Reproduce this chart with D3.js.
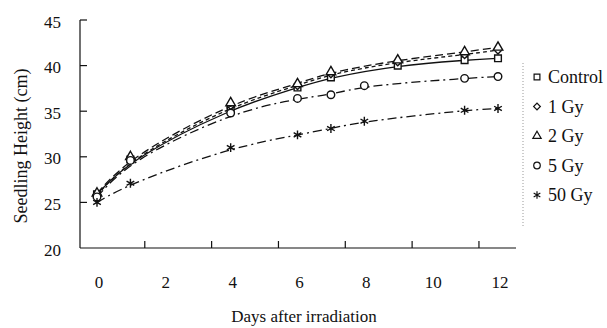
<!DOCTYPE html>
<html><head><meta charset="utf-8">
<script src="https://cdn.jsdelivr.net/npm/d3@7"></script>
<style>
html,body{margin:0;padding:0;background:#fff;}
svg text{font-family:"Liberation Serif","Times New Roman",serif;fill:#111;}
</style></head>
<body><svg id="c" width="607" height="328"></svg>
<script>
// ---- data ----
const seriesNames = ["Control", "1 Gy", "2 Gy", "5 Gy", "50 Gy"];
const daysLow = [0, 1, 4, 6, 7, 9, 11, 12];
const daysHigh = [0, 1, 4, 6, 7, 8, 11, 12];
const controlVals = [25.9, 29.7, 35.3, 37.6, 38.7, 40.0, 40.6, 40.8];
const gy1Vals = [25.8, 29.8, 35.6, 37.8, 39.1, 40.4, 41.2, 41.7];
const gy2Vals = [26.0, 30.0, 35.9, 38.0, 39.3, 40.6, 41.5, 42.0];
const gy5Vals = [25.6, 29.6, 34.8, 36.4, 36.8, 37.8, 38.6, 38.8];
const gy50Vals = [25.0, 27.1, 31.0, 32.4, 33.1, 33.9, 35.1, 35.3];
const xTickLabels = [0, 2, 4, 6, 8, 10, 12];
const yTickLabels = [20, 25, 30, 35, 40, 45];

const series = [
  {name: seriesNames[0], days: daysLow, vals: controlVals, sym: d3.symbolSquare, size: 45, rot: 0, dash: null},
  {name: seriesNames[1], days: daysLow, vals: gy1Vals, sym: d3.symbolSquare, size: 30, rot: 45, dash: "4,3"},
  {name: seriesNames[2], days: daysLow, vals: gy2Vals, sym: d3.symbolTriangle, size: 40, rot: 0, dash: "8,4"},
  {name: seriesNames[3], days: daysHigh, vals: gy5Vals, sym: d3.symbolCircle, size: 45, rot: 0, dash: "9,4,2,4"},
  {name: seriesNames[4], days: daysHigh, vals: gy50Vals, sym: d3.symbolAsterisk, size: 55, rot: 0, dash: "9,4,2,4"}
];

const svg = d3.select("#c");
const x = d3.scaleLinear().domain([0, 12]).range([97, 498]);
const y = d3.scaleLinear().domain([20, 45]).range([248, 20]);
const axisLeft = 80, axisRight = 516;

// axes
const g = svg.append("g").attr("stroke", "#111").attr("stroke-width", 1.2);
g.append("line").attr("x1", axisLeft).attr("x2", axisLeft).attr("y1", y(45)).attr("y2", y(20));
g.append("line").attr("x1", axisLeft).attr("x2", axisRight).attr("y1", y(20)).attr("y2", y(20));
yTickLabels.filter(v => v > 20).forEach(v => {
  g.append("line").attr("x1", axisLeft).attr("x2", axisLeft + 7).attr("y1", y(v)).attr("y2", y(v));
});
// x ticks sit between the labels in the original
const xTickOffset = 1.43;
d3.range(6).forEach(k => {
  const xv = x(xTickOffset + 2 * k);
  g.append("line").attr("x1", xv).attr("x2", xv).attr("y1", y(20)).attr("y2", y(20) - 7);
});

svg.selectAll(".yl").data(yTickLabels).enter().append("text")
  .attr("x", 61).attr("y", d => y(d) + 7.5).attr("text-anchor", "end")
  .attr("font-size", 17).text(d => d);
svg.selectAll(".xl").data(xTickLabels).enter().append("text")
  .attr("x", d => x(d) + 2).attr("y", 288).attr("text-anchor", "middle")
  .attr("font-size", 17).text(d => d);

svg.append("text").attr("x", 304).attr("y", 322).attr("text-anchor", "middle")
  .attr("font-size", 17).text("Days after irradiation");
svg.append("text").attr("transform", "translate(27,146) rotate(-90)").attr("text-anchor", "middle")
  .attr("font-size", 18).text("Seedling Height (cm)");

// lines
const line = d3.line().x(d => x(d[0])).y(d => y(d[1])).curve(d3.curveBasis);
series.forEach(s => {
  const pts = s.days.map((d, i) => [d, s.vals[i]]);
  svg.append("path").attr("d", line(pts)).attr("fill", "none").attr("stroke", "#111")
    .attr("stroke-width", 1.3).attr("stroke-dasharray", s.dash);
  svg.append("g").selectAll("path").data(pts).enter().append("path")
    .attr("transform", d => `translate(${x(d[0])},${y(d[1])}) rotate(${s.rot})`)
    .attr("d", d3.symbol().type(s.sym).size(s.size))
    .attr("fill", "#fff").attr("stroke", "#111").attr("stroke-width", 1.4);
});

// legend
svg.append("line").attr("x1", 523).attr("x2", 523).attr("y1", 63).attr("y2", 228)
  .attr("stroke", "#999").attr("stroke-width", 1).attr("stroke-dasharray", "1,2");
series.forEach((s, i) => {
  const ly = 77 + i * 29.5;
  svg.append("path").attr("transform", `translate(537,${ly}) rotate(${s.rot})`)
    .attr("d", d3.symbol().type(s.sym).size(s.size * 0.75))
    .attr("fill", "#fff").attr("stroke", "#111").attr("stroke-width", 1.2);
  svg.append("text").attr("x", 548).attr("y", ly + 6).attr("font-size", 18).text(s.name);
});
</script></body></html>
